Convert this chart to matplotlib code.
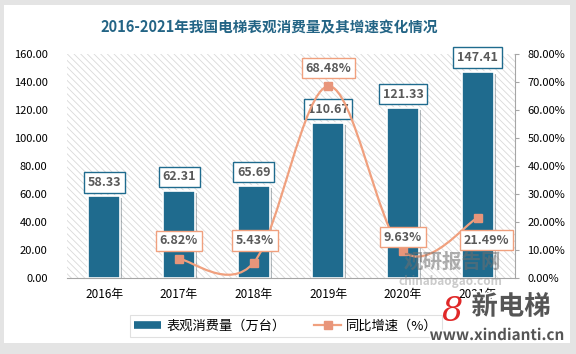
import numpy as np
import matplotlib.pyplot as plt
from matplotlib.path import Path
from matplotlib.patches import PathPatch, Rectangle
from matplotlib.lines import Line2D
from matplotlib.ticker import FuncFormatter
import matplotlib.patheffects as pe

plt.rcParams['font.family'] = ['Noto Sans CJK SC', 'DejaVu Sans']
plt.rcParams['hatch.linewidth'] = 0.6

# data
years = ['2016年', '2017年', '2018年', '2019年', '2020年', '2021年']
consumption = [58.33, 62.31, 65.69, 110.67, 121.33, 147.41]   # 万台
growth_years = ['2017年', '2018年', '2019年', '2020年', '2021年']
growth = [6.82, 5.43, 68.48, 9.63, 21.49]                     # %

BAR = '#1f6b8e'
LINE = '#f0a07e'
MARK = '#e8957a'
TXT = '#595959'


def smooth_path(xs, ys):
	"""Excel style smoothed line: Catmull-Rom turned into cubic beziers"""
	pts = np.column_stack([xs, ys]).astype(float)
	n = len(pts)
	verts = [pts[0]]
	codes = [Path.MOVETO]
	for i in range(n - 1):
		p0 = pts[max(i - 1, 0)]
		p1 = pts[i]
		p2 = pts[i + 1]
		p3 = pts[min(i + 2, n - 1)]
		verts += [p1 + (p2 - p0) / 6, p2 - (p3 - p1) / 6, p2]
		codes += [Path.CURVE4] * 3
	return Path(verts, codes)


fig = plt.figure(figsize=(5.76, 3.54), dpi=100)
fig.patch.set_facecolor('#e4e4e4')
# white card behind everything
fig.patches.append(Rectangle((4 / 576, 11 / 354), 566 / 576, 338 / 354,
	transform=fig.transFigure, facecolor='white', edgecolor='none', zorder=-5))

fig.text(269 / 576, 327 / 354, '2016-2021年我国电梯表观消费量及其增速变化情况',
	ha='center', va='center', fontsize=10.5, fontweight='bold', color='#236485')

ax = fig.add_axes([67 / 576, 76 / 354, 448 / 576, 224 / 354])
ax.patch.set_facecolor('white')
ax.patch.set_hatch('\\' * 5)
ax.patch.set_edgecolor('#d9d9d9')

x = np.arange(len(years))
ax.bar(x, consumption, width=0.43, color=BAR, edgecolor='white', linewidth=1.2, zorder=2,
	path_effects=[pe.SimplePatchShadow(offset=(1.5, -1.5), alpha=0.3), pe.Normal()])

ax.set_xlim(-0.5, len(years) - 0.5)
ax.set_ylim(0, 160)
ax.set_yticks(np.arange(0, 161, 20))
ax.yaxis.set_major_formatter(FuncFormatter(lambda v, p: '%.2f' % v))
ax.set_xticks(x)
ax.set_xticklabels(years)
ax.tick_params(axis='y', length=0, pad=14, labelsize=8, labelcolor='black')
ax.tick_params(axis='x', length=0, pad=7, labelsize=8.5, labelcolor='black')
for s in ['top', 'left', 'right']:
	ax.spines[s].set_visible(False)
ax.spines['bottom'].set_color('#a6a6a6')

for i, v in enumerate(consumption):
	ax.annotate('%.2f' % v, (i, v), xytext=(0, 10), textcoords='offset points',
		ha='center', va='center', fontsize=9, fontweight='bold', color=TXT, zorder=5,
		bbox=dict(boxstyle='square,pad=0.3', fc='white', ec=BAR, lw=1))

# growth rate on the right axis
ax2 = ax.twinx()
ax2.set_ylim(0, 80)
ax2.set_yticks(np.arange(0, 81, 10))
ax2.yaxis.set_major_formatter(FuncFormatter(lambda v, p: '%.2f%%' % v))
ax2.tick_params(axis='y', length=3, pad=6, labelsize=8, color='#a6a6a6')
for s in ['top', 'left', 'bottom']:
	ax2.spines[s].set_visible(False)
ax2.spines['right'].set_color('#a6a6a6')

gx = [years.index(y) for y in growth_years]
ax2.add_patch(PathPatch(smooth_path(gx, growth), fill=False, edgecolor=LINE, lw=1.6, zorder=3))
ax2.plot(gx, growth, linestyle='none', marker='s', markersize=5.5, color=MARK, zorder=4)

offsets = [(0, 13), (1, 16), (0, 13), (0, 10), (6.5, -16)]
for xi, v, off in zip(gx, growth, offsets):
	ax2.annotate('%.2f%%' % v, (xi, v), xytext=off, textcoords='offset points',
		ha='center', va='center', fontsize=9, fontweight='bold', color=TXT, zorder=6,
		bbox=dict(boxstyle='square,pad=0.3', fc='white', ec=LINE, lw=1))

# watermarks
fig.text(452 / 576, 92 / 354, '观研报告网', ha='center', va='center', fontsize=14,
	fontweight='bold', color='#6e6e6e', alpha=0.55, zorder=10)
fig.text(450 / 576, 73 / 354, 'chinabaogao.com', ha='center', va='center', fontsize=8.5,
	fontweight='bold', color='#8c8c8c', alpha=0.45, zorder=10)
fig.text(452 / 576, 42 / 354, '8', ha='center', va='center', fontsize=24, style='italic',
	family='DejaVu Serif', color='#e02828', zorder=10)
fig.text(511 / 576, 47 / 354, '新电梯', ha='center', va='center', fontsize=19,
	fontweight='bold', color='#555555', zorder=10,
	path_effects=[pe.withStroke(linewidth=2.5, foreground='white')])
fig.text(497 / 576, 19 / 354, 'www.xindianti.cn', ha='center', va='center', fontsize=11,
	fontweight='bold', color='#555555', zorder=10,
	path_effects=[pe.withStroke(linewidth=2.5, foreground='white')])

handles = [Line2D([0], [0], color=BAR, lw=5.5, solid_capstyle='butt'),
	Line2D([0], [0], color=LINE, lw=1.6, marker='s', markersize=5.5, markerfacecolor=MARK, markeredgecolor=MARK)]
leg = fig.legend(handles, ['表观消费量（万台）', '同比增速（%）'], loc='center',
	bbox_to_anchor=(286 / 576, 28 / 354), ncol=2, fontsize=9.5, frameon=True, fancybox=False,
	edgecolor='#d9d9d9', handlelength=2.0, handletextpad=0.4, columnspacing=2.2,
	borderpad=0.35, borderaxespad=0)
leg.get_frame().set_linewidth(0.8)

fig.savefig('out.png', dpi=100, facecolor=fig.get_facecolor())
